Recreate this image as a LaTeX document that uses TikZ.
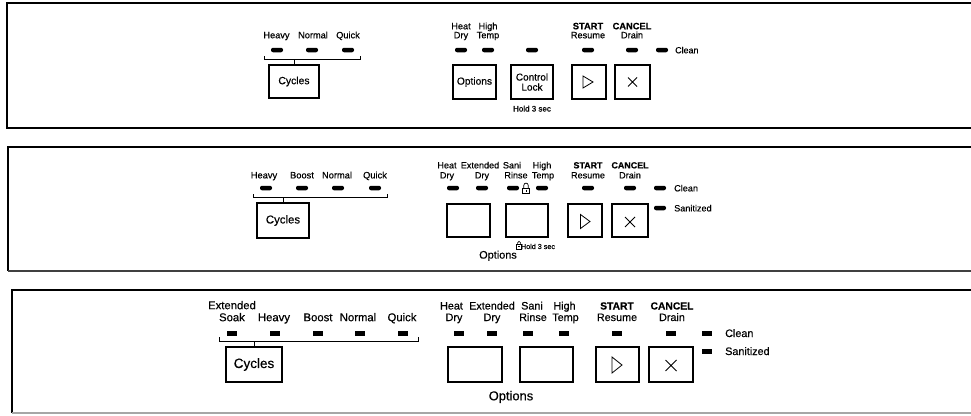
\documentclass[tikz,border=0pt]{standalone}
\usepackage{fontspec}
\setmainfont[FakeBold=0.4]{Liberation Sans}
\usetikzlibrary{calc}
\newcommand\myfs[1]{\fontsize{#1}{#1}\selectfont}
\begin{document}
\begin{tikzpicture}[x=1pt,y=-1pt,
  lab/.style={inner sep=0pt, anchor=base},
  labA/.style={lab, font=\myfs{9.2}},
  labB/.style={lab, font=\myfs{9.3}},
  labBr/.style={lab, font=\myfs{9.1}},
  labC/.style={lab, font=\myfs{11.3}},
  labCr/.style={lab, font=\myfs{10.8}},
  pill/.style={fill=black, rounded corners=2pt, minimum width=12pt, minimum height=4.5pt, inner sep=0pt},
  sq/.style={fill=black, minimum width=10pt, minimum height=5pt, inner sep=0pt},
  btn/.style={draw, line width=1.2pt, inner sep=0pt, align=center},
  brk/.style={line width=0.9pt},
  sym/.style={line width=0.8pt, line join=miter},
  border/.style={line width=1.5pt}]
\useasboundingbox (0,0) rectangle (971,415);
\fill[white] (0,0) rectangle (971,415);

% ---------------- Panel 1 ----------------
\draw[border] (971,3) -- (7,3) -- (7,128) -- (971,128);
\node[labA] (p1heavy) at (276.5,38.3) {Heavy};
\node[labA] (p1normal) at (313,38.3) {Normal};
\node[labA] (p1quick) at (348,38.3) {Quick};
\node[pill] (p1l1) at (277,50) {};
\node[pill] (p1l2) at (312,50) {};
\node[pill] (p1l3) at (348,50) {};
\draw[brk] (264,56) -- (264,59) -- (360,59) -- (360,56);
\coordinate (p1b) at (294,59);
\node[btn, minimum width=50pt, minimum height=33pt, font=\myfs{10.4}] (p1cyc) at (294,81.5) {Cycles};
\draw[brk] (p1b) -- (p1cyc.north);

\node[labA] (p1heat) at (461,29.3) {Heat};
\node[labA] (p1dry) at (461,38.3) {Dry};
\node[labA] (p1high) at (488,29.3) {High};
\node[labA] (p1temp) at (488,38.3) {Temp};
\node[labA, font=\bfseries\myfs{9.3}] (p1startt) at (588,29.3) {START};
\node[labA] (p1resume) at (588,38.3) {Resume};
\node[labA, font=\bfseries\myfs{9.3}] (p1cancelt) at (632,29.3) {CANCEL};
\node[labA] (p1drain) at (632,38.3) {Drain};
\node[pill] (p1l4) at (461,50) {};
\node[pill] (p1l5) at (488,50) {};
\node[pill] (p1l6) at (532,50) {};
\node[pill] (p1l7) at (588,50) {};
\node[pill] (p1l8) at (632,50) {};
\node[pill] (p1l9) at (662,50) {};
\node[labA, anchor=base west, font=\myfs{8.9}] (p1clean) at (675,53.3) {Clean};
\node[btn, minimum width=43pt, minimum height=34pt, font=\myfs{10.2}] (p1opt) at (474.5,82) {Options};
\node[btn, minimum width=42pt, minimum height=34pt, font=\fontsize{10}{10}\selectfont] (p1lock) at (532,82) {Control\\Lock};
\node[labA, font=\myfs{8}] (p1hold) at (532,111.5) {Hold 3 sec};
\node[btn, minimum width=34pt, minimum height=34pt] (p1start) at (589,82) {};
\draw[sym, shift={(p1start.center)}] (-6,-6) -- (4,0) -- (-6,6) -- cycle;
\node[btn, minimum width=35pt, minimum height=34pt] (p1cancel) at (632.5,82) {};
\draw[sym, shift={(p1cancel.center)}] (-4.5,-4.5) -- (4.5,4.5) (-4.5,4.5) -- (4.5,-4.5);

% ---------------- Panel 2 ----------------
\draw[border] (971,147) -- (8,147) -- (8,271);
\draw[border, black!75] (8,271) -- (971,271);
\node[labB] (p2heavy) at (264,178.4) {Heavy};
\node[labB] (p2boost) at (302,178.4) {Boost};
\node[labB] (p2normal) at (337,178.4) {Normal};
\node[labB] (p2quick) at (375,178.4) {Quick};
\node[pill] (p2l1) at (266,188) {};
\node[pill] (p2l2) at (302,188) {};
\node[pill] (p2l3) at (338,188) {};
\node[pill] (p2l4) at (375,188) {};
\draw[brk] (253,194) -- (253,197) -- (387,197) -- (387,194);
\coordinate (p2b) at (283,197);
\node[btn, minimum width=52pt, minimum height=35pt, font=\myfs{11.4}] (p2cyc) at (283,220.5) {Cycles};
\draw[brk] (p2b) -- (p2cyc.north);

\node[labBr] (p2heat) at (447,168.4) {Heat};
\node[labBr] (p2dry) at (447,178.4) {Dry};
\node[labBr] (p2ext) at (480,168.4) {Extended};
\node[labBr] (p2dry2) at (482,178.4) {Dry};
\node[labBr] (p2sani) at (512,168.4) {Sani};
\node[labBr] (p2rinse) at (516,178.4) {Rinse};
\node[labBr] (p2high) at (542,168.4) {High};
\node[labBr] (p2temp) at (543,178.4) {Temp};
\node[labBr, font=\bfseries\myfs{8.9}] (p2startt) at (588,168.4) {START};
\node[labBr] (p2resume) at (588,178.4) {Resume};
\node[labBr, font=\bfseries\myfs{8.9}] (p2cancelt) at (630,168.4) {CANCEL};
\node[labBr] (p2drain) at (630,178.4) {Drain};
\node[pill] (p2l5) at (453,188) {};
\node[pill] (p2l6) at (482,188) {};
\node[pill] (p2l7) at (513,188) {};
\node[pill] (p2l8) at (542,188) {};
\node[pill] (p2l9) at (588,188) {};
\node[pill] (p2l10) at (630,188) {};
\node[pill] (p2l11) at (660,188) {};
\node[pill] (p2l12) at (660,208) {};
% padlock between LEDs
\draw[line width=0.7pt] (523.8,188) -- (523.8,185.3) arc[start angle=180, end angle=360, radius=2.2] -- (528.2,188);
\draw[line width=0.7pt] (522.8,188) rectangle (529.2,193.2);
\draw[line width=0.6pt] (526,189.5) -- (526,191.5);
\node[labBr, anchor=base west] (p2clean) at (674,191.4) {Clean};
\node[labBr, anchor=base west] (p2sanit) at (674,211.4) {Sanitized};
\node[btn, minimum width=43pt, minimum height=33pt] (p2o1) at (468.5,220.5) {};
\node[btn, minimum width=42pt, minimum height=33pt] (p2o2) at (527,220.5) {};
\node[btn, minimum width=34pt, minimum height=33pt] (p2start) at (585,220.5) {};
\draw[sym, shift={(p2start.center)}] (-4.5,-6) -- (5,1) -- (-4.5,8) -- cycle;
\node[btn, minimum width=36pt, minimum height=33pt] (p2cancel) at (630,220.5) {};
\draw[sym, shift={(p2cancel.center)}] (-5,-3.5) -- (5,6.5) (-5,6.5) -- (5,-3.5);
% small lock + hold
\draw[line width=0.6pt] (517.6,244.3) -- (517.6,242.8) arc[start angle=180, end angle=360, radius=1.5] -- (520.6,244.3);
\draw[line width=0.6pt] (516.7,244.3) rectangle (521.5,249);
\draw[line width=0.5pt] (517.8,246.6) -- (520.4,246.6);
\node[lab, font=\myfs{7.2}] (p2hold) at (538,249) {Hold 3 sec};
\node[lab, font=\myfs{10.9}] (p2opts) at (498,258.6) {Options};

% ---------------- Panel 3 ----------------
\draw[border] (971,290) -- (12,290) -- (12,413);
\draw[border, black!35] (12,413) -- (971,413);
\node[labC] (p3ext) at (232,309.2) {Extended};
\node[labC] (p3soak) at (232,321.2) {Soak};
\node[labC] (p3heavy) at (274,321.2) {Heavy};
\node[labC] (p3boost) at (318,321.2) {Boost};
\node[labC] (p3normal) at (358,321.2) {Normal};
\node[labC] (p3quick) at (402,321.2) {Quick};
\node[sq] (p3l1) at (232,333) {};
\node[sq] (p3l2) at (275,333) {};
\node[sq] (p3l3) at (318,333) {};
\node[sq] (p3l4) at (360,333) {};
\node[sq] (p3l5) at (403,333) {};
\draw[brk] (219,337) -- (219,341) -- (418,341) -- (418,337);
\coordinate (p3b) at (254,341);
\node[btn, minimum width=56pt, minimum height=35pt, font=\myfs{13.5}] (p3cyc) at (254,364.5) {Cycles};
\draw[brk] (p3b) -- (p3cyc.north);

\node[labCr] (p3heat) at (451.5,309.5) {Heat};
\node[labCr] (p3dry) at (454,321) {Dry};
\node[labCr] (p3ext2) at (492,309.5) {Extended};
\node[labCr] (p3dry2) at (492,321) {Dry};
\node[labCr] (p3sani) at (532,309.5) {Sani};
\node[labCr] (p3rinse) at (533,321) {Rinse};
\node[labCr] (p3high) at (564.5,309.5) {High};
\node[labCr] (p3temp) at (565.5,321) {Temp};
\node[labCr, font=\bfseries\myfs{10.3}] (p3startt) at (617,309.5) {START};
\node[labCr] (p3resume) at (617,321) {Resume};
\node[labCr, font=\bfseries\myfs{10.3}] (p3cancelt) at (672,309.5) {CANCEL};
\node[labCr] (p3drain) at (672,321) {Drain};
\node[sq] (p3l6) at (459,333) {};
\node[sq] (p3l7) at (492,333) {};
\node[sq] (p3l8) at (528,333) {};
\node[sq] (p3l9) at (564,333) {};
\node[sq] (p3l10) at (617,333) {};
\node[sq] (p3l11) at (671,333) {};
\node[sq] (p3l12) at (707,333) {};
\node[sq] (p3l13) at (707,351) {};
\node[labCr, anchor=base west] (p3clean) at (725,337) {Clean};
\node[labCr, anchor=base west] (p3sanit) at (725,355) {Sanitized};
\node[btn, minimum width=54pt, minimum height=35pt] (p3o1) at (475,364.5) {};
\node[btn, minimum width=53pt, minimum height=35pt] (p3o2) at (546.5,364.5) {};
\node[btn, minimum width=43pt, minimum height=35pt] (p3start) at (617.5,364.5) {};
\draw[sym, shift={(p3start.center)}] (-5.5,-7.5) -- (4.5,0.5) -- (-5.5,8.5) -- cycle;
\node[btn, minimum width=44pt, minimum height=35pt] (p3cancel) at (671,364.5) {};
\draw[sym, shift={(p3cancel.center)}] (-5.5,-4.5) -- (5.5,6.5) (-5.5,6.5) -- (5.5,-4.5);
\node[lab, font=\myfs{12.9}] (p3opts) at (511,400.3) {Options};
\end{tikzpicture}
\end{document}
